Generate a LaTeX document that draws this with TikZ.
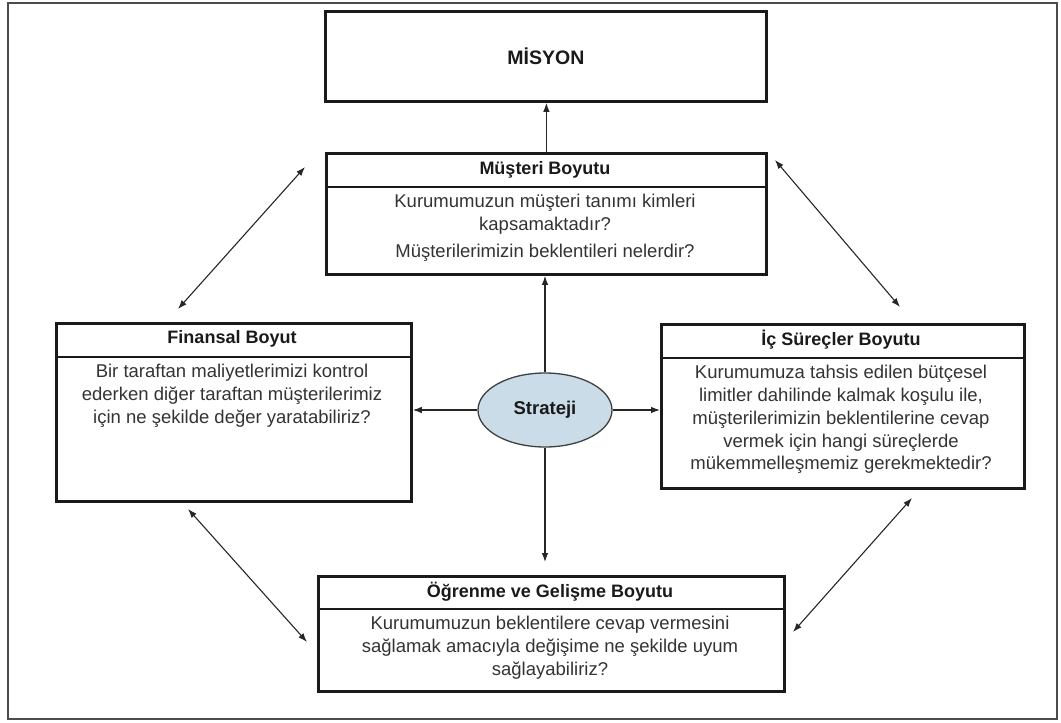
\documentclass[tikz,border=0pt]{standalone}
\usepackage{fontspec}
\setmainfont{Liberation Sans}
\usetikzlibrary{arrows.meta,shapes.geometric}

\definecolor{inkdark}{HTML}{1A1A1A}
\definecolor{inkbody}{HTML}{333333}
\definecolor{ovalfill}{HTML}{C9DCE8}

\begin{document}
\begin{tikzpicture}[x=1pt,y=-1pt,
  outer/.style={draw=black!70, line width=1.8pt},
  panel/.style={draw=inkdark, line width=2.8pt, rectangle, anchor=north west, inner sep=0pt},
  rulel/.style={draw=inkdark, line width=1.2pt},
  head/.style={font=\fontsize{18}{21}\selectfont\bfseries, text=inkdark, inner sep=0pt},
  body/.style={font=\fontsize{18.5}{22.8}\selectfont, text=inkbody, align=center, inner sep=0pt, anchor=north},
  oval/.style={ellipse, draw=black!75, line width=1.3pt, fill=ovalfill, minimum width=134pt, minimum height=74pt, inner sep=0pt},
  link/.style={draw=black!85, line width=1.1pt, -{Latex[length=9pt,width=6.5pt]}},
  dlink/.style={draw=black!85, line width=1.1pt, {Latex[length=9pt,width=6.5pt]}-{Latex[length=9pt,width=6.5pt]}}
]
\useasboundingbox (0,0) rectangle (1061,723);

% outer frame
\draw[outer] (8,3) rectangle (1057,719);

% mission box
\node[panel, minimum width=441pt, minimum height=90pt, font=\fontsize{19.5}{22}\selectfont\bfseries, text=inkdark] (mis) at (324,10) {MİSYON};

% customer perspective
\node[panel, minimum width=440pt, minimum height=121pt] (mus) at (325,152) {};
\draw[rulel] (325,187) coordinate (musl) -- (765,187) coordinate (musr);
\node[head] (mush) at (545,170) {Müşteri Boyutu};
\node[body] (musb) at (545,194) {Kurumumuzun müşteri tanımı kimleri\\kapsamaktadır?\\[4pt]Müşterilerimizin beklentileri nelerdir?};

% financial perspective
\node[panel, minimum width=355pt, minimum height=178pt] (fin) at (55,322) {};
\draw[rulel] (55,357) coordinate (finl) -- (410,357) coordinate (finr);
\node[head] (finh) at (232,339) {Finansal Boyut};
\node[body] (finb) at (232,364) {Bir taraftan maliyetlerimizi kontrol\\ederken diğer taraftan müşterilerimiz\\için ne şekilde değer yaratabiliriz?};

% internal process perspective
\node[panel, minimum width=363pt, minimum height=164pt] (ic) at (660,323) {};
\draw[rulel] (660,358) coordinate (icl) -- (1023,358) coordinate (icr);
\node[head] (ich) at (841,340) {İç Süreçler Boyutu};
\node[body] (icb) at (841,365) {Kurumumuza tahsis edilen bütçesel\\limitler dahilinde kalmak koşulu ile,\\müşterilerimizin beklentilerine cevap\\vermek için hangi süreçlerde\\mükemmelleşmemiz gerekmektedir?};

% learning and growth perspective
\node[panel, minimum width=466pt, minimum height=115pt] (ogr) at (317,575) {};
\draw[rulel] (317,609) coordinate (ogrl) -- (783,609) coordinate (ogrr);
\node[head] (ogrh) at (550,592) {Öğrenme ve Gelişme Boyutu};
\node[body] (ogrb) at (550,616) {Kurumumuzun beklentilere cevap vermesini\\sağlamak amacıyla değişime ne şekilde uyum\\sağlayabiliriz?};

% strategy at the centre
\node[oval, font=\fontsize{18.5}{21}\selectfont\bfseries, text=inkdark] (stra) at (545,410) {Strateji};

% links out of the strategy and up to the mission
\draw[link] (mus.north) -- (mus.north |- mis.south);
\draw[link] (stra.north) -- (stra.north |- mus.south);
\draw[link] (stra.west) -- (stra.west -| fin.east);
\draw[link] (stra.east) -- (stra.east -| ic.west);
\draw[link, shorten >=13pt] (stra.south) -- (stra.south |- ogr.north);

% two-way links between neighbouring perspectives
\coordinate (a1) at (178,309);
\coordinate (a2) at (305,167);
\coordinate (b1) at (775,160);
\coordinate (b2) at (900,307);
\coordinate (c1) at (188,509);
\coordinate (c2) at (307,642);
\coordinate (d1) at (912,498);
\coordinate (d2) at (793,632);
\draw[dlink] (a1) -- (a2);
\draw[dlink] (b1) -- (b2);
\draw[dlink] (c1) -- (c2);
\draw[dlink] (d1) -- (d2);
\end{tikzpicture}
\end{document}
